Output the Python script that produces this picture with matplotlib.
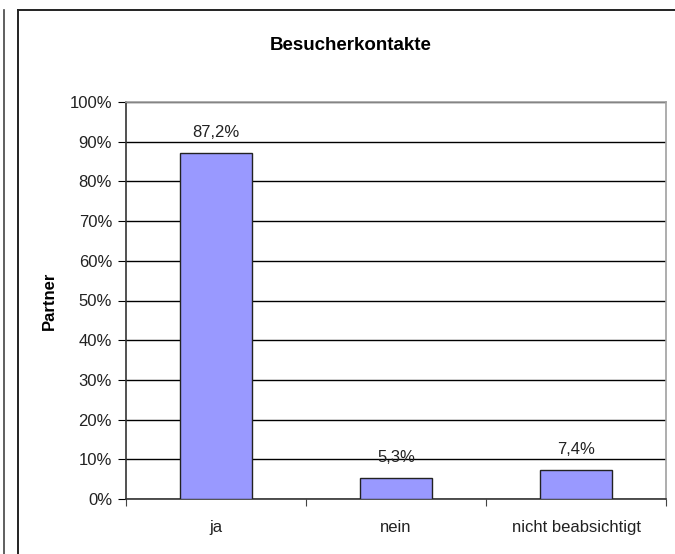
import matplotlib.pyplot as plt
from matplotlib.lines import Line2D
from matplotlib.ticker import FuncFormatter

# Data
categories = ['ja', 'nein', 'nicht beabsichtigt']
values = [87.2, 5.3, 7.4]
value_labels = ['87,2%', '5,3%', '7,4%']

plt.rcParams['font.family'] = ['Liberation Sans', 'DejaVu Sans']

fig = plt.figure(figsize=(6.75, 5.54), dpi=100)
ax = fig.add_axes([126 / 675, 55 / 554, 540 / 675, 397 / 554])

# Bars
x = range(len(categories))
ax.bar(x, values, width=0.4, color='#9999ff', edgecolor='#222222', linewidth=1.0, zorder=3)
for i, v in enumerate(values):
    ax.annotate(value_labels[i], (i, v), xytext=(0, 9), textcoords='offset points',
                ha='center', va='bottom', fontsize=12, color='#222222')

# Axes
ax.set_xlim(-0.5, 2.5)
ax.set_ylim(0, 100)
ax.set_yticks(range(0, 101, 10))
ax.yaxis.set_major_formatter(FuncFormatter(lambda v, p: f'{int(v)}%'))
ax.yaxis.grid(True, color='black', linewidth=1.0, zorder=0)
ax.set_axisbelow(True)

ax.set_xticks([-0.5, 0.5, 1.5, 2.5])
ax.set_xticklabels([])
ax.set_xticks(list(x), minor=True)
ax.set_xticklabels(categories, minor=True)
ax.tick_params(axis='x', which='minor', length=0, pad=15, labelsize=12, labelcolor='#222222')
ax.tick_params(axis='x', which='major', length=5, direction='out', color='#444444')
ax.tick_params(axis='y', length=6, direction='out', labelsize=12, labelcolor='#222222', pad=4)

for s in ['top', 'right']:
    ax.spines[s].set_color('#a0a0a0')
    ax.spines[s].set_linewidth(1.2)
for s in ['left', 'bottom']:
    ax.spines[s].set_color('#333333')
    ax.spines[s].set_linewidth(1.2)

ax.set_ylabel('Partner', fontsize=12, fontweight='bold', labelpad=9)

fig.text(351 / 675, 1 - 45 / 554, 'Besucherkontakte', ha='center', va='center',
         fontsize=13.5, fontweight='bold')

# Frame lines of the surrounding chart box
fig.add_artist(Line2D([17.5 / 675, 17.5 / 675], [0, 1 - 10 / 554], color='#222222', linewidth=1.4))
fig.add_artist(Line2D([17.5 / 675, 1], [1 - 10 / 554, 1 - 10 / 554], color='#222222', linewidth=1.4))
fig.add_artist(Line2D([3.5 / 675, 3.5 / 675], [0, 1 - 10 / 554], color='#444444', linewidth=1.2))

fig.savefig('out.png', dpi=100)
